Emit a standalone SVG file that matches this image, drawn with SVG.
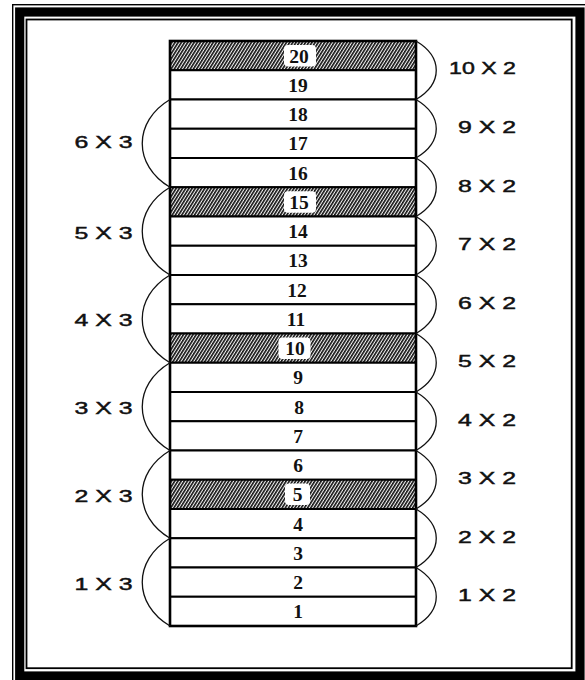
<svg xmlns="http://www.w3.org/2000/svg" width="585" height="680" viewBox="0 0 585 680">
<defs>
<pattern id="hatch" patternUnits="userSpaceOnUse" width="2.7" height="12" patternTransform="rotate(32)">
<rect x="0" y="0" width="2.7" height="12" fill="#f4f4f4"/>
<rect x="0" y="0" width="1.6" height="12" fill="#111"/>
</pattern>
<style>
.frame{fill:none;stroke:#000}
.row{fill:#fff;stroke:#000;stroke-width:2}
.shade{fill:url(#hatch);stroke:#000;stroke-width:2}
.tag{fill:#fff;stroke:none}
.num{font-family:"Liberation Serif",serif;font-weight:bold;font-size:19.5px;text-anchor:middle;fill:#111}
.lbl{font-family:"Liberation Sans",Arial,sans-serif;font-size:16.5px;fill:#111;stroke:#111;stroke-width:0.45}
.arc{fill:none;stroke:#111;stroke-width:1.3}
</style>
</defs>
<rect width="585" height="680" fill="#fff"/>
<g id="frame">
<rect class="frame" x="12.7" y="4.7" width="600" height="700" stroke-width="1.4"/>
<rect class="frame" x="19.7" y="12" width="560.3" height="664" stroke-width="9.2"/>
<rect class="frame" x="26.5" y="19.5" width="545.2" height="648.7" stroke-width="1.8"/>
</g>
<g id="stack">
<g id="row20"><rect class="shade" x="170" y="41" width="246" height="29.25"/><rect class="tag" x="284" y="45" width="32" height="21.5" rx="4"/><text class="num" x="299" y="62.6">20</text></g>
<g id="row19"><rect class="row" x="170" y="70.25" width="246" height="29.25"/><text class="num" x="298" y="91.9">19</text></g>
<g id="row18"><rect class="row" x="170" y="99.5" width="246" height="29.25"/><text class="num" x="298" y="121.1">18</text></g>
<g id="row17"><rect class="row" x="170" y="128.75" width="246" height="29.25"/><text class="num" x="298" y="150.4">17</text></g>
<g id="row16"><rect class="row" x="170" y="158" width="246" height="29.25"/><text class="num" x="298" y="179.6">16</text></g>
<g id="row15"><rect class="shade" x="170" y="187.25" width="246" height="29.25"/><rect class="tag" x="284" y="191.2" width="32" height="21.5" rx="4"/><text class="num" x="299" y="208.9">15</text></g>
<g id="row14"><rect class="row" x="170" y="216.5" width="246" height="29.25"/><text class="num" x="298" y="238.1">14</text></g>
<g id="row13"><rect class="row" x="170" y="245.75" width="246" height="29.25"/><text class="num" x="298" y="267.4">13</text></g>
<g id="row12"><rect class="row" x="170" y="275" width="246" height="29.25"/><text class="num" x="297" y="296.6">12</text></g>
<g id="row11"><rect class="row" x="170" y="304.25" width="246" height="29.25"/><text class="num" x="296" y="325.9">11</text></g>
<g id="row10"><rect class="shade" x="170" y="333.5" width="246" height="29.25"/><rect class="tag" x="278.5" y="337.5" width="32" height="21.5" rx="4"/><text class="num" x="295" y="355.1">10</text></g>
<g id="row9"><rect class="row" x="170" y="362.75" width="246" height="29.25"/><text class="num" x="298" y="384.4">9</text></g>
<g id="row8"><rect class="row" x="170" y="392" width="246" height="29.25"/><text class="num" x="299" y="413.6">8</text></g>
<g id="row7"><rect class="row" x="170" y="421.25" width="246" height="29.25"/><text class="num" x="298" y="442.9">7</text></g>
<g id="row6"><rect class="row" x="170" y="450.5" width="246" height="29.25"/><text class="num" x="298" y="472.1">6</text></g>
<g id="row5"><rect class="shade" x="170" y="479.75" width="246" height="29.25"/><rect class="tag" x="285" y="483.5" width="25" height="21.5" rx="4"/><text class="num" x="297.5" y="501.4">5</text></g>
<g id="row4"><rect class="row" x="170" y="509" width="246" height="29.25"/><text class="num" x="298" y="530.6">4</text></g>
<g id="row3"><rect class="row" x="170" y="538.25" width="246" height="29.25"/><text class="num" x="298" y="559.9">3</text></g>
<g id="row2"><rect class="row" x="170" y="567.5" width="246" height="29.25"/><text class="num" x="298" y="589.1">2</text></g>
<g id="row1"><rect class="row" x="170" y="596.75" width="246" height="29.25"/><text class="num" x="298" y="618.4">1</text></g>
<rect x="170" y="41" width="246" height="585" fill="none" stroke="#000" stroke-width="2.6"/>
</g>
<g id="connectors">
<path class="arc" d="M170,538.25 C133,560.25 133,604 170,626"/>
<path class="arc" d="M170,450.5 C133,472.5 133,516.25 170,538.25"/>
<path class="arc" d="M170,362.75 C133,384.75 133,428.5 170,450.5"/>
<path class="arc" d="M170,275 C133,297 133,340.75 170,362.75"/>
<path class="arc" d="M170,187.25 C133,209.25 133,253 170,275"/>
<path class="arc" d="M170,99.5 C133,121.5 133,165.25 170,187.25"/>
<path class="arc" d="M416,41 C443,57 443,83.5 416,99.5"/>
<path class="arc" d="M416,99.5 C443,115.5 443,142 416,158"/>
<path class="arc" d="M416,158 C443,174 443,200.5 416,216.5"/>
<path class="arc" d="M416,216.5 C443,232.5 443,259 416,275"/>
<path class="arc" d="M416,275 C443,291 443,317.5 416,333.5"/>
<path class="arc" d="M416,333.5 C443,349.5 443,376 416,392"/>
<path class="arc" d="M416,392 C443,408 443,434.5 416,450.5"/>
<path class="arc" d="M416,450.5 C443,466.5 443,493 416,509"/>
<path class="arc" d="M416,509 C443,525 443,551.5 416,567.5"/>
<path class="arc" d="M416,567.5 C443,583.5 443,610 416,626"/>
</g>
<g id="labels-left">
<text class="lbl" x="74.5" y="148" textLength="58" lengthAdjust="spacingAndGlyphs">6 X 3</text>
<text class="lbl" x="74.5" y="238.5" textLength="58" lengthAdjust="spacingAndGlyphs">5 X 3</text>
<text class="lbl" x="74.5" y="326" textLength="58" lengthAdjust="spacingAndGlyphs">4 X 3</text>
<text class="lbl" x="74.5" y="414" textLength="58" lengthAdjust="spacingAndGlyphs">3 X 3</text>
<text class="lbl" x="74.5" y="501.5" textLength="58" lengthAdjust="spacingAndGlyphs">2 X 3</text>
<text class="lbl" x="74.5" y="590" textLength="58" lengthAdjust="spacingAndGlyphs">1 X 3</text>
</g>
<g id="labels-right">
<text class="lbl" x="449" y="74" textLength="67" lengthAdjust="spacingAndGlyphs">10 X 2</text>
<text class="lbl" x="458" y="132.5" textLength="58" lengthAdjust="spacingAndGlyphs">9 X 2</text>
<text class="lbl" x="458" y="191.5" textLength="58" lengthAdjust="spacingAndGlyphs">8 X 2</text>
<text class="lbl" x="458" y="250" textLength="58" lengthAdjust="spacingAndGlyphs">7 X 2</text>
<text class="lbl" x="458" y="308.5" textLength="58" lengthAdjust="spacingAndGlyphs">6 X 2</text>
<text class="lbl" x="458" y="367" textLength="58" lengthAdjust="spacingAndGlyphs">5 X 2</text>
<text class="lbl" x="458" y="425.5" textLength="58" lengthAdjust="spacingAndGlyphs">4 X 2</text>
<text class="lbl" x="458" y="484" textLength="58" lengthAdjust="spacingAndGlyphs">3 X 2</text>
<text class="lbl" x="458" y="542.5" textLength="58" lengthAdjust="spacingAndGlyphs">2 X 2</text>
<text class="lbl" x="458" y="601" textLength="58" lengthAdjust="spacingAndGlyphs">1 X 2</text>
</g>
</svg>
